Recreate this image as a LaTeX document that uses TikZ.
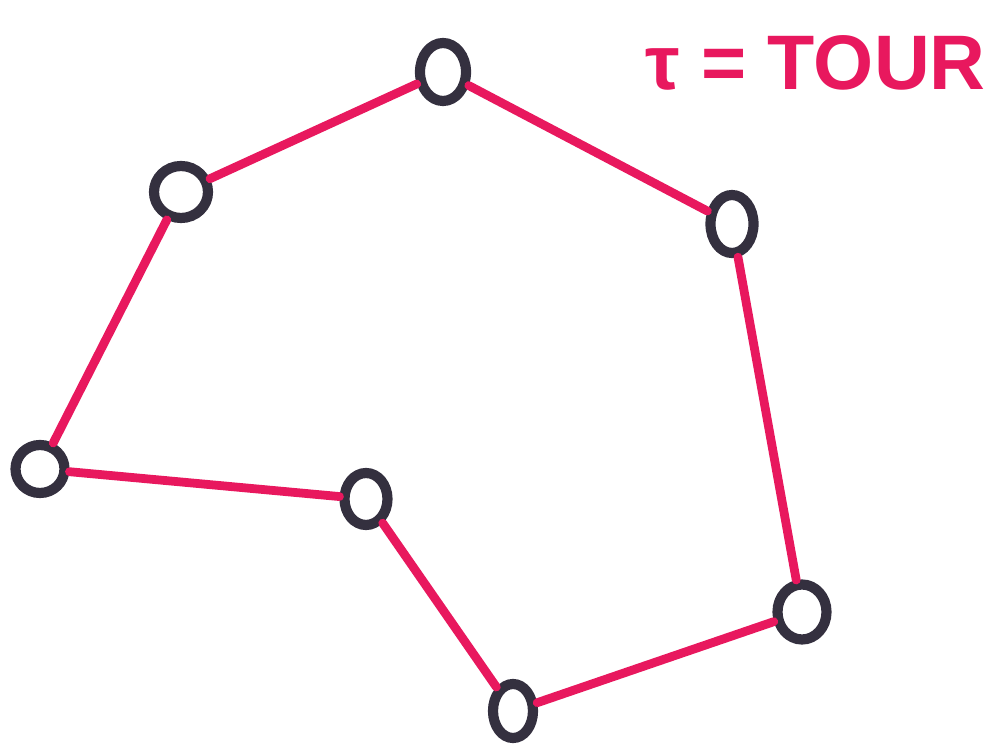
\documentclass[tikz,border=0pt]{standalone}
\usepackage{fontspec}
\usepackage{tikz}
\usetikzlibrary{shapes.geometric}
\newfontfamily\markerfont{Liberation Sans}
\definecolor{tPink}{HTML}{E8185E}
\definecolor{nInk}{HTML}{34303F}
\tikzset{
  city/.style={ellipse, draw=nInk, line width=5.8pt, fill=white,
    minimum width=0.92cm, minimum height=1.16cm, inner sep=0pt},
  tourleg/.style={draw=tPink, line width=5pt, line cap=round},
  caption/.style={text=tPink, font=\markerfont\bfseries\fontsize{44}{52}\selectfont},
}

\begin{document}
\begin{tikzpicture}
  \useasboundingbox (0,0) rectangle (19.86,14.98);
  \node[city] (top) at (8.86,13.54) {};
  \node[city, minimum width=1.08cm, minimum height=1.04cm] (upleft) at (3.62,11.14) {};
  \node[city, minimum width=0.86cm] (upright) at (14.64,10.50) {};
  \node[city, minimum width=0.98cm, minimum height=0.96cm] (left) at (0.80,5.60) {};
  \node[city, minimum width=0.86cm, minimum height=1.04cm] (mid) at (7.32,5.00) {};
  \node[city, minimum width=0.98cm, minimum height=1.10cm] (lowright) at (16.04,2.74) {};
  \node[city, minimum width=0.80cm, minimum height=1.08cm] (bottom) at (10.26,0.76) {};
  \draw[tourleg] (left) -- (upleft);
  \draw[tourleg] (upleft) -- (top);
  \draw[tourleg] (top) -- (upright);
  \draw[tourleg] (upright) -- (lowright);
  \draw[tourleg] (lowright) -- (bottom);
  \draw[tourleg] (bottom) -- (mid);
  \draw[tourleg] (mid) -- (left);
  \node[caption, anchor=east, inner sep=0pt] (label) at (19.72,13.72) {τ = TOUR};
\end{tikzpicture}
\end{document}
